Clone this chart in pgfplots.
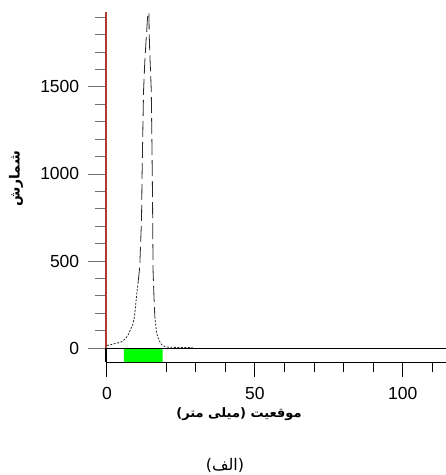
\documentclass[border=0pt]{standalone}
\usepackage{fontspec}
\setmainfont{Liberation Sans}
\newfontfamily\arabicfont[Script=Arabic]{DejaVu Sans}
\TeXXeTstate=1
\usepackage{pgfplots}
\pgfplotsset{compat=1.18}
\definecolor{axred}{RGB}{170,60,50}
\definecolor{tickgray}{RGB}{110,110,110}
\definecolor{curve}{RGB}{40,40,40}
\begin{document}
\begin{tikzpicture}[x=1pt,y=1pt]
\useasboundingbox (0,0) rectangle (446,475);
\begin{axis}[
 at={(106pt,113pt)}, anchor=south west,
 scale only axis, width=340pt, height=350pt,
 xmin=-0.3, xmax=114.6, ymin=-80, ymax=1930,
 axis x line=bottom, axis y line=left,
 axis line style={-},
 y axis line style={draw=black, line width=1.2pt},
 x axis line style={draw=black, line width=0.9pt},
 xtick={0,50,100}, minor xtick={20,30,40,60,70,80,90,110},
 ytick={0,500,1000,1500}, minor ytick={100,200,...,1900},
 tick align=outside,
 xtick style={/pgfplots/major tick length=15pt,/pgfplots/minor tick length=10pt,draw=black,line width=0.8pt},
 ytick style={/pgfplots/major tick length=18pt,/pgfplots/minor tick length=11pt,draw=tickgray,line width=0.8pt},
 /pgf/number format/assume math mode=true,
 /pgf/number format/1000 sep={},
 ticklabel style={font=\fontsize{17.5}{18}\selectfont},
 yticklabel style={xshift=-19pt},
 xticklabel style={yshift=-17pt},
 clip=true,
]
\addplot[fill=green, draw=none] coordinates {(5.7,-80) (18.8,-80) (18.8,0) (5.7,0)} \closedcycle;
\addplot[black, line width=0.8pt] coordinates {(-0.3,0) (114.6,0)};
\addplot[curve, line width=0.8pt, dash pattern=on 2pt off 1.5pt] coordinates {
(0,15) (1,18) (2,23) (3,27) (4,31) (5,36) (6,50) (7,70) (7.7,95) (8.2,115) (8.7,132) (9.2,170) (9.5,209) (10,295) (10.5,370)};
\addplot[curve, line width=0.8pt, dash pattern=on 16pt off 5pt] coordinates {
(10.5,370) (11.1,466) (11.7,735) (11.9,1000) (12.2,1300) (12.4,1480) (12.8,1640) (13.4,1810) (14,1960) (14.15,2050) (14.3,1800) (14.6,1650) (15.0,1480) (15.2,1200) (15.4,900) (15.5,700) (15.6,450) (15.9,300) (16.2,180)};
\addplot[curve, line width=0.8pt, dash pattern=on 2pt off 1.5pt] coordinates {
(16.2,180) (16.8,86) (17.4,55) (17.9,36) (18.5,20) (19.6,8) (21,5) (23,4) (26,3) (29,3)};
\coordinate (yzero) at (axis cs:-0.3,0);
\coordinate (ytop) at (axis cs:-0.3,1930);
\end{axis}
\draw[axred, line width=1.2pt] (yzero) -- (ytop);
\node[rotate=90, font=\arabicfont\bfseries\fontsize{14}{16}\selectfont] at (16,296) {\beginR شمارش\endR};
\node[font=\arabicfont\bfseries\fontsize{13}{15}\selectfont] at (239,61) {\beginR موقعیت (میلی متر)\endR};
\node[font=\arabicfont\fontsize{16}{18}\selectfont] at (225,10) {\beginR(الف)\endR};
\end{tikzpicture}
\end{document}
